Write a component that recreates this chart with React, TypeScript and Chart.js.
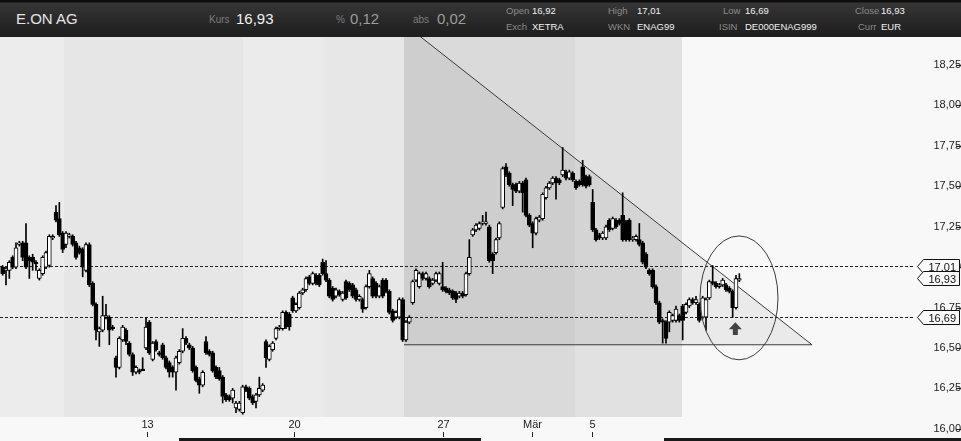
import React, { useEffect, useRef } from "react";
import { Chart, registerables } from "chart.js";

Chart.register(...registerables);

const FONT = '"Liberation Sans", Arial, Helvetica, sans-serif';

// hourly candles (XETRA), index 0..221
const openP = [
  17.00,16.98,16.98,17.06,17.00,17.14,17.15,17.15,17.06,17.06,17.03,16.93,16.96,17.00,17.01,17.18,17.34,17.30,17.21,17.14,
  17.19,17.19,17.15,17.12,17.11,16.98,17.14,16.90,16.77,16.60,16.61,16.69,16.69,16.63,16.44,16.38,16.55,16.61,16.53,16.46,
  16.35,16.36,16.37,16.50,16.66,16.43,16.54,16.47,16.52,16.44,16.41,16.38,16.35,16.41,16.48,16.56,16.52,16.50,16.38,16.31,
  16.27,16.54,16.48,16.47,16.38,16.36,16.32,16.21,16.20,16.19,16.13,16.12,16.10,16.26,16.25,16.20,16.17,16.21,16.24,16.54,
  16.43,16.49,16.56,16.62,16.62,16.72,16.71,16.81,16.73,16.75,16.84,16.86,16.94,16.90,16.95,16.95,17.03,16.96,16.92,16.87,
  16.82,16.85,16.80,16.91,16.90,16.89,16.86,16.80,16.80,16.75,16.88,16.93,16.90,16.82,16.92,16.92,16.85,16.73,16.69,16.69,
  16.80,16.55,16.66,16.78,16.92,16.88,16.96,16.93,16.93,16.90,16.92,16.90,16.88,16.87,16.86,16.85,16.84,16.82,16.84,16.83,
  16.96,17.20,17.23,17.24,17.27,17.27,17.25,17.08,17.09,17.18,17.37,17.62,17.58,17.51,17.51,17.47,17.52,17.54,17.32,17.27,
  17.21,17.29,17.30,17.43,17.49,17.52,17.55,17.54,17.57,17.59,17.55,17.58,17.53,17.53,17.62,17.56,17.56,17.40,17.23,17.20,
  17.18,17.18,17.29,17.24,17.29,17.29,17.32,17.28,17.29,17.17,17.17,17.17,17.15,17.08,16.98,16.98,16.88,16.78,16.67,16.66,
  16.66,16.67,16.67,16.70,16.76,16.72,16.76,16.80,16.78,16.77,16.69,16.69,16.81,16.91,16.90,16.88,16.89,16.89,16.87,16.85,
  16.75,16.92,
];
const highP = [
  17.01,17.00,17.04,17.07,17.15,17.16,17.16,17.27,17.07,17.08,17.04,16.99,17.07,17.10,17.20,17.20,17.38,17.40,17.22,17.22,
  17.21,17.20,17.16,17.13,17.12,17.15,17.15,16.91,16.78,16.63,16.82,16.77,16.70,16.64,16.45,16.57,16.64,16.62,16.54,16.47,
  16.39,16.37,16.44,16.69,16.67,16.54,16.55,16.48,16.53,16.45,16.42,16.39,16.45,16.49,16.62,16.57,16.53,16.51,16.39,16.32,
  16.36,16.57,16.49,16.48,16.39,16.38,16.33,16.22,16.21,16.25,16.17,16.17,16.27,16.27,16.26,16.21,16.22,16.32,16.28,16.55,
  16.52,16.54,16.63,16.64,16.73,16.73,16.72,16.82,16.78,16.85,16.87,16.94,16.95,16.97,16.96,16.96,17.05,17.04,16.93,16.88,
  16.87,16.86,16.85,16.92,16.91,16.90,16.87,16.83,16.81,16.89,16.98,16.94,16.91,16.89,16.93,16.93,16.86,16.74,16.73,16.81,
  16.81,16.67,16.70,16.92,16.99,16.97,16.97,16.97,16.94,16.93,16.97,16.97,17.03,16.88,16.87,16.86,16.85,16.85,16.85,16.97,
  17.17,17.24,17.27,17.28,17.32,17.34,17.26,17.09,17.18,17.28,17.62,17.64,17.59,17.52,17.52,17.53,17.53,17.55,17.33,17.28,
  17.31,17.32,17.46,17.50,17.53,17.56,17.56,17.55,17.74,17.60,17.60,17.59,17.54,17.54,17.66,17.57,17.57,17.48,17.24,17.21,
  17.22,17.26,17.30,17.31,17.30,17.30,17.46,17.29,17.30,17.19,17.20,17.27,17.16,17.09,16.99,16.99,16.89,16.79,16.68,16.67,
  16.73,16.71,16.76,16.71,16.77,16.78,16.81,16.81,16.82,16.78,16.82,16.81,16.92,17.01,16.91,16.90,16.93,16.90,16.88,16.86,
  16.95,16.96,
];
const lowP = [
  16.95,16.89,16.93,16.99,16.99,17.13,17.04,16.99,16.93,16.98,16.98,16.92,16.95,16.99,17.00,17.17,17.28,17.19,17.09,17.12,
  17.18,17.13,17.05,17.08,16.94,16.97,16.88,16.76,16.55,16.51,16.60,16.68,16.52,16.61,16.32,16.37,16.54,16.52,16.45,16.33,
  16.34,16.34,16.36,16.49,16.46,16.42,16.48,16.45,16.43,16.37,16.32,16.32,16.24,16.40,16.47,16.52,16.49,16.35,16.29,16.22,
  16.26,16.46,16.45,16.35,16.31,16.30,16.16,16.17,16.17,16.16,16.10,16.11,16.09,16.23,16.18,16.15,16.13,16.20,16.23,16.38,
  16.42,16.48,16.55,16.61,16.61,16.62,16.61,16.72,16.72,16.74,16.83,16.85,16.89,16.89,16.89,16.88,16.95,16.91,16.81,16.79,
  16.81,16.82,16.79,16.80,16.85,16.81,16.79,16.79,16.72,16.74,16.87,16.81,16.81,16.81,16.81,16.84,16.71,16.66,16.68,16.68,
  16.54,16.54,16.65,16.77,16.91,16.87,16.92,16.92,16.87,16.89,16.91,16.89,16.85,16.84,16.83,16.80,16.78,16.81,16.81,16.82,
  16.95,17.19,17.22,17.23,17.26,17.26,17.03,16.96,17.08,17.17,17.36,17.56,17.50,17.38,17.46,17.46,17.34,17.31,17.25,17.12,
  17.20,17.28,17.29,17.42,17.48,17.51,17.42,17.51,17.56,17.54,17.54,17.53,17.48,17.50,17.50,17.49,17.50,17.22,17.16,17.17,
  17.17,17.17,17.22,17.23,17.24,17.26,17.16,17.16,17.16,17.16,17.16,17.13,17.02,16.99,16.95,16.87,16.77,16.65,16.53,16.53,
  16.60,16.66,16.66,16.66,16.55,16.71,16.75,16.77,16.77,16.66,16.68,16.61,16.80,16.89,16.87,16.87,16.88,16.85,16.84,16.69,
  16.74,16.91,
];
const closeP = [
  16.96,16.99,17.03,17.00,17.12,17.15,17.06,17.00,17.04,17.03,17.02,16.98,17.06,17.09,17.19,17.19,17.29,17.20,17.11,17.21,
  17.20,17.14,17.06,17.09,17.00,17.14,16.89,16.77,16.61,16.62,16.70,16.70,16.61,16.62,16.38,16.56,16.63,16.54,16.46,16.35,
  16.38,16.35,16.36,16.63,16.47,16.53,16.49,16.46,16.44,16.38,16.35,16.35,16.44,16.48,16.56,16.53,16.50,16.36,16.30,16.27,
  16.35,16.47,16.46,16.36,16.32,16.31,16.20,16.18,16.18,16.24,16.16,16.16,16.26,16.24,16.19,16.16,16.21,16.25,16.27,16.44,
  16.51,16.53,16.62,16.63,16.72,16.63,16.63,16.73,16.77,16.84,16.86,16.93,16.90,16.96,16.90,16.89,16.96,16.92,16.82,16.80,
  16.86,16.83,16.84,16.81,16.86,16.82,16.80,16.82,16.74,16.88,16.96,16.82,16.82,16.88,16.82,16.85,16.72,16.67,16.72,16.80,
  16.55,16.66,16.69,16.91,16.98,16.96,16.93,16.96,16.88,16.92,16.96,16.96,16.86,16.85,16.84,16.81,16.80,16.84,16.82,16.96,
  17.06,17.23,17.26,17.27,17.28,17.28,17.04,17.04,17.17,17.27,17.61,17.57,17.51,17.48,17.47,17.52,17.46,17.32,17.26,17.21,
  17.30,17.31,17.45,17.49,17.52,17.55,17.52,17.52,17.60,17.55,17.59,17.54,17.49,17.51,17.51,17.50,17.51,17.23,17.17,17.18,
  17.21,17.25,17.23,17.30,17.25,17.27,17.17,17.17,17.17,17.18,17.19,17.14,17.03,17.00,16.96,16.88,16.78,16.66,16.66,16.56,
  16.72,16.70,16.74,16.67,16.67,16.77,16.80,16.78,16.80,16.67,16.81,16.80,16.91,16.90,16.88,16.89,16.92,16.86,16.85,16.75,
  16.93,16.93,
];

const xTickPos = [43.3, 87.4, 132.1, 158.8, 176.8];
const xTickLabels = ["13", "20", "27", "Mär", "5"];
const yTickValues = [16.0, 16.25, 16.5, 16.75, 17.0, 17.25, 17.5, 17.75, 18.0, 18.25];
const dayHigh = 17.01;
const dayLow = 16.69;
const lastPrice = 16.93;

// background zones (candle index)
const bandEdges = [-0.8, 18.4, 72.1, 96.4, 120.4, 171.7, 203.8, 273.7];
const bandColors = ["#ececec", "#e6e6e6", "#ebebeb", "#e7e7e7", "#dadada", "#e1e1e1", "#f8f8f8"];

// triangle annotation (index / price)
const triLeftX = 120.4;
const triApexY = 18.505;
const triBaseY = 16.52;
const triRightX = 242.8;

// ellipse + arrow annotation
const ellCx = 220.9;
const ellCy = 16.81;
const ellRx = 11.7;
const ellRy = 0.383;
const arrowX = 219.8;
const arrowTip = 16.66;
const arrowTail = 16.58;

const X_MIN = -0.8;
const X_MAX = 273.7;
const Y_MIN = 15.925;
const Y_MAX = 18.423;

const fmt = (v: number) => v.toFixed(2).replace(".", ",");

const header = [
  { t: "E.ON AG", x: 16, y: 11, s: 15, c: "#e4e4e4" },
  { t: "Kurs", x: 209, y: 15, s: 10, c: "#7c7c7c" },
  { t: "16,93", x: 236, y: 11, s: 15, c: "#f0f0f0" },
  { t: "%", x: 336, y: 15, s: 10, c: "#7c7c7c" },
  { t: "0,12", x: 350, y: 11, s: 15, c: "#9c9c9c" },
  { t: "abs", x: 413, y: 15, s: 10, c: "#7c7c7c" },
  { t: "0,02", x: 437, y: 11, s: 15, c: "#9c9c9c" },
  { t: "Open", x: 506, y: 6, s: 9.5, c: "#8a8a8a" },
  { t: "16,92", x: 532, y: 6, s: 9.5, c: "#f0f0f0" },
  { t: "High", x: 608, y: 6, s: 9.5, c: "#8a8a8a" },
  { t: "17,01", x: 637, y: 6, s: 9.5, c: "#f0f0f0" },
  { t: "Low", x: 723, y: 6, s: 9.5, c: "#8a8a8a" },
  { t: "16,69", x: 745, y: 6, s: 9.5, c: "#f0f0f0" },
  { t: "Close", x: 855, y: 6, s: 9.5, c: "#8a8a8a" },
  { t: "16,93", x: 881, y: 6, s: 9.5, c: "#f0f0f0" },
  { t: "Exch", x: 506, y: 22, s: 9.5, c: "#8a8a8a" },
  { t: "XETRA", x: 532, y: 22, s: 9.5, c: "#f0f0f0" },
  { t: "WKN", x: 608, y: 22, s: 9.5, c: "#8a8a8a" },
  { t: "ENAG99", x: 637, y: 22, s: 9.5, c: "#f0f0f0" },
  { t: "ISIN", x: 719, y: 22, s: 9.5, c: "#8a8a8a" },
  { t: "DE000ENAG999", x: 745, y: 22, s: 9.5, c: "#f0f0f0" },
  { t: "Curr", x: 858, y: 22, s: 9.5, c: "#8a8a8a" },
  { t: "EUR", x: 881, y: 22, s: 9.5, c: "#f0f0f0" },
];

const STRIP = 24;

const decor = {
  id: "decor",
  beforeDraw(chart: any) {
    const { ctx, chartArea } = chart;
    const x = chart.scales.x;
    const y = chart.scales.y;
    const plotBottom = chartArea.bottom - STRIP;
    ctx.save();
    ctx.fillStyle = "#f8f8f8";
    ctx.fillRect(0, 0, chart.width, chart.height);
    for (let i = 0; i < bandColors.length; i++) {
      const a = x.getPixelForValue(bandEdges[i]);
      const b = x.getPixelForValue(bandEdges[i + 1]);
      ctx.fillStyle = bandColors[i];
      ctx.fillRect(a, chartArea.top, b - a, plotBottom - chartArea.top);
    }
    // bottom frame segments
    ctx.fillStyle = "#1a1a1a";
    ctx.fillRect(179, chart.height - 3, 302, 3);
    ctx.fillRect(664, chart.height - 3, chart.width - 664, 3);
    // triangle
    ctx.beginPath();
    ctx.rect(chartArea.left, chartArea.top, chartArea.right - chartArea.left, plotBottom - chartArea.top);
    ctx.clip();
    const ax = x.getPixelForValue(triLeftX);
    const ay = y.getPixelForValue(triApexY);
    const by = y.getPixelForValue(triBaseY);
    const bx = x.getPixelForValue(triRightX);
    ctx.beginPath();
    ctx.moveTo(ax, ay);
    ctx.lineTo(bx, by);
    ctx.lineTo(ax, by);
    ctx.closePath();
    ctx.fillStyle = "rgba(0,0,0,0.055)";
    ctx.fill();
    ctx.strokeStyle = "#3a3a3a";
    ctx.lineWidth = 1;
    ctx.beginPath();
    ctx.moveTo(ax, ay);
    ctx.lineTo(bx, by);
    ctx.lineTo(ax, by);
    ctx.stroke();
    // dashed day high / low
    ctx.setLineDash([3, 2]);
    ctx.strokeStyle = "#222";
    for (const v of [dayHigh, dayLow]) {
      const py = Math.round(y.getPixelForValue(v)) + 0.5;
      ctx.beginPath();
      ctx.moveTo(chartArea.left, py);
      ctx.lineTo(chartArea.right, py);
      ctx.stroke();
    }
    ctx.restore();
  },
  afterDatasetsDraw(chart: any) {
    const { ctx } = chart;
    const x = chart.scales.x;
    const y = chart.scales.y;
    ctx.save();
    const cx = x.getPixelForValue(ellCx);
    const cy = y.getPixelForValue(ellCy);
    const rx = x.getPixelForValue(ellCx + ellRx) - cx;
    const ry = cy - y.getPixelForValue(ellCy + ellRy);
    ctx.beginPath();
    ctx.ellipse(cx, cy, rx, ry, 0, 0, Math.PI * 2);
    ctx.strokeStyle = "#3c3c3c";
    ctx.lineWidth = 1;
    ctx.stroke();
    // arrow
    const axp = x.getPixelForValue(arrowX);
    const tip = y.getPixelForValue(arrowTip);
    const tail = y.getPixelForValue(arrowTail);
    const headH = 7;
    ctx.beginPath();
    ctx.moveTo(axp, tip);
    ctx.lineTo(axp + 6.5, tip + headH);
    ctx.lineTo(axp + 2.5, tip + headH);
    ctx.lineTo(axp + 2.5, tail);
    ctx.lineTo(axp - 2.5, tail);
    ctx.lineTo(axp - 2.5, tip + headH);
    ctx.lineTo(axp - 6.5, tip + headH);
    ctx.closePath();
    ctx.fillStyle = "#444";
    ctx.fill();
    ctx.restore();
  },
  afterDraw(chart: any) {
    const { ctx, chartArea } = chart;
    const x = chart.scales.x;
    const y = chart.scales.y;
    ctx.save();
    // x labels + tick marks
    ctx.font = `11px ${FONT}`;
    ctx.fillStyle = "#222";
    ctx.textAlign = "center";
    ctx.textBaseline = "middle";
    const labelY = chartArea.bottom - 16;
    xTickPos.forEach((p, i) => {
      const px = Math.round(x.getPixelForValue(p)) + 0.5;
      ctx.fillText(xTickLabels[i], px, labelY);
      ctx.beginPath();
      ctx.moveTo(px, chartArea.bottom - 9);
      ctx.lineTo(px, chartArea.bottom - 4);
      ctx.strokeStyle = "#222";
      ctx.lineWidth = 1;
      ctx.stroke();
    });
    // y tick marks
    yTickValues.forEach((v) => {
      const py = Math.round(y.getPixelForValue(v)) + 0.5;
      ctx.beginPath();
      ctx.moveTo(chart.width - 5, py);
      ctx.lineTo(chart.width, py);
      ctx.strokeStyle = "#222";
      ctx.stroke();
    });
    // price boxes
    const boxes = [dayHigh, lastPrice, dayLow];
    boxes.forEach((v) => {
      const py = Math.round(y.getPixelForValue(v)) + 0.5;
      const x0 = chartArea.right + 2.5;
      const xb = x0 + 6;
      const x1 = chart.width - 1.5;
      const h = 7;
      ctx.beginPath();
      ctx.moveTo(x0, py);
      ctx.lineTo(xb, py - h);
      ctx.lineTo(x1, py - h);
      ctx.lineTo(x1, py + h);
      ctx.lineTo(xb, py + h);
      ctx.closePath();
      ctx.fillStyle = "#fafafa";
      ctx.fill();
      ctx.strokeStyle = "#111";
      ctx.stroke();
      ctx.fillStyle = "#111";
      ctx.textAlign = "left";
      ctx.textBaseline = "middle";
      ctx.fillText(fmt(v), xb + 5, py + 1);
    });
    ctx.restore();
  },
};

export default function App() {
  const ref = useRef<HTMLCanvasElement | null>(null);
  useEffect(() => {
    document.body.style.margin = "0";
    const canvas = ref.current;
    if (!canvas) return;
    const chart = new Chart(canvas, {
      type: "bar",
      data: {
        datasets: [
          {
            label: "wick",
            data: highP.map((h, i) => ({ x: i, y: [lowP[i], h] })) as any,
            backgroundColor: "#000",
            barThickness: 1,
            grouped: false,
            order: 2,
          } as any,
          {
            label: "body",
            data: openP.map((o, i) => ({ x: i, y: [o, closeP[i]] })) as any,
            backgroundColor: openP.map((o, i) => (closeP[i] >= o ? "#ffffff" : "#000000")),
            borderColor: "#000",
            borderWidth: 1,
            borderSkipped: false,
            barThickness: 4,
            minBarLength: 1,
            grouped: false,
            order: 1,
          } as any,
        ],
      },
      options: {
        animation: false,
        responsive: false,
        devicePixelRatio: 1,
        events: [],
        layout: { padding: 0, autoPadding: false },
        plugins: { legend: { display: false }, tooltip: { enabled: false } },
        scales: {
          x: { type: "linear", min: X_MIN, max: X_MAX, offset: false, display: false },
          y: {
            type: "linear",
            position: "right",
            min: Y_MIN,
            max: Y_MAX,
            afterBuildTicks: (s: any) => {
              s.ticks = yTickValues.map((v) => ({ value: v }));
            },
            afterFit: (s: any) => {
              s.width = 46;
              s.paddingTop = 0;
              s.paddingBottom = 0;
            },
            grid: { display: false, drawTicks: false },
            border: { display: false },
            ticks: {
              crossAlign: "far",
              padding: 13,
              color: "#222",
              font: { family: FONT, size: 11 },
              callback: (v: any) => fmt(Number(v)),
            },
          },
        },
      } as any,
      plugins: [decor],
    });
    return () => chart.destroy();
  }, []);

  return (
    <div style={{ position: "absolute", left: 0, top: 0, width: 961, height: 441, overflow: "hidden", fontFamily: FONT }}>
      <div
        style={{
          position: "absolute",
          left: 0,
          top: 0,
          width: 961,
          height: 37,
          background: "linear-gradient(#0e0e0e 0px, #0e0e0e 2px, #363636 3px, #2a2a2a 18px, #1e1e1e 37px)",
        }}
      >
        {header.map((h, i) => (
          <span
            key={i}
            style={{
              position: "absolute",
              left: h.x,
              top: h.y,
              fontSize: h.s,
              lineHeight: `${h.s}px`,
              color: h.c,
              whiteSpace: "nowrap",
            }}
          >
            {h.t}
          </span>
        ))}
      </div>
      <canvas ref={ref} width={961} height={404} style={{ position: "absolute", left: 0, top: 37, width: 961, height: 404 }} />
    </div>
  );
}
